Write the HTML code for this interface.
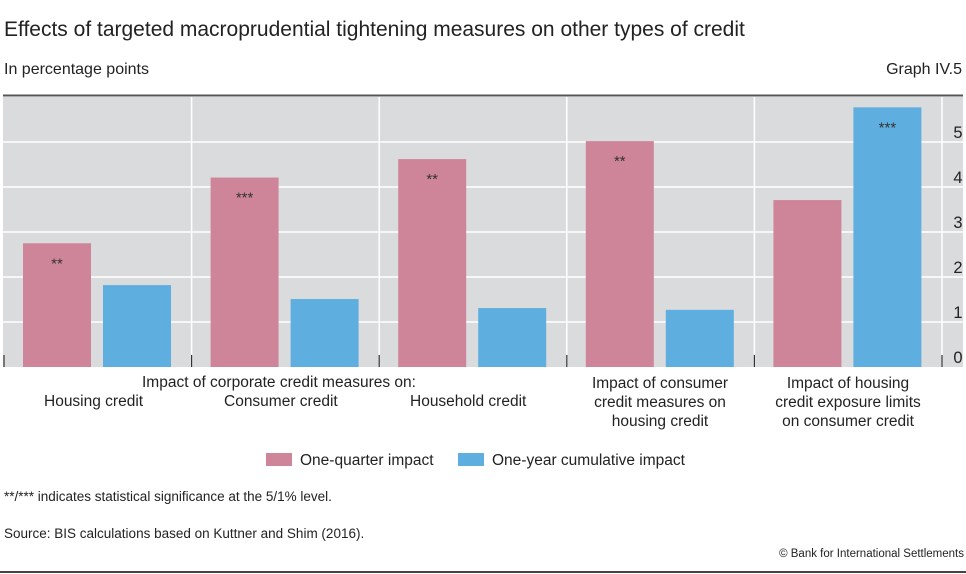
<!DOCTYPE html>
<html><head><meta charset="utf-8"><style>
body{margin:0;background:#fff;font-family:"Liberation Sans",sans-serif;}
#wrap{position:relative;width:966px;height:574px;overflow:hidden;}
.t{position:absolute;color:#222;white-space:nowrap;}
.c{text-align:center;line-height:19px;font-size:15.5px;}
</style></head><body>
<div id="wrap">
<div class="t" style="left:4px;top:18px;font-size:21px;">Effects of targeted macroprudential tightening measures on other types of credit</div>
<div class="t" style="left:4px;top:61px;font-size:16px;">In percentage points</div>
<div class="t" style="right:4px;top:61px;font-size:16px;">Graph IV.5</div>
<svg id="chart" width="966" height="440" style="position:absolute;left:0;top:0"></svg>
<div class="t" style="left:142px;top:374px;font-size:15.5px;">Impact of corporate credit measures on:</div>
<div class="t" style="left:44px;top:393px;font-size:15.5px;">Housing credit</div>
<div class="t" style="left:224px;top:393px;font-size:15.5px;">Consumer credit</div>
<div class="t" style="left:410px;top:393px;font-size:15.5px;">Household credit</div>
<div class="t c" style="left:566px;width:188px;top:374px;">Impact of consumer<br>credit measures on<br>housing credit</div>
<div class="t c" style="left:754px;width:188px;top:374px;">Impact of housing<br>credit exposure limits<br>on consumer credit</div>
<div class="t" style="left:266px;top:452px;font-size:15.5px;"><span style="display:inline-block;width:26px;height:13px;background:#cf8599;vertical-align:-1px;margin-right:8px"></span>One-quarter impact</div>
<div class="t" style="left:458px;top:452px;font-size:15.5px;"><span style="display:inline-block;width:26px;height:13px;background:#5eaee0;vertical-align:-1px;margin-right:8px"></span>One-year cumulative impact</div>
<div class="t" style="left:4px;top:489px;font-size:13.5px;">**/*** indicates statistical significance at the 5/1% level.</div>
<div class="t" style="left:4px;top:526px;font-size:13.5px;">Source: BIS calculations based on Kuttner and Shim (2016).</div>
<div class="t" style="right:2px;top:548px;font-size:11.5px;">© Bank for International Settlements</div>
<div style="position:absolute;left:0;top:571px;width:966px;height:1.5px;background:#444"></div>
</div>
<script>
const categories=["Housing credit","Consumer credit","Household credit","Consumer→housing","Housing limits→consumer"];
const quarterValues=[2.75,4.21,4.62,5.02,3.71];
const yearValues=[1.82,1.51,1.31,1.27,5.77];
const quarterStars=["**","***","**","**",""];
const yearStars=["","","","","***"];
const yTicks=[0,1,2,3,4,5];
const NS="http://www.w3.org/2000/svg";
const svg=document.getElementById('chart');
const x0=4,catW=187.6,y0=367,unit=45,plotTop=97;
const yS=v=>y0-v*unit;
const cx=i=>x0+i*catW;
function mk(t,a){const e=document.createElementNS(NS,t);for(const k in a)e.setAttribute(k,a[k]);svg.appendChild(e);return e;}
let r=mk('rect',{x:3,y:plotTop,width:960,height:y0-plotTop,fill:'#dadbdd'});


yTicks.slice(1).forEach(v=>{const l=mk('line',{x1:3,x2:963,y1:yS(v),y2:yS(v),stroke:'#fff','stroke-width':1.5});

});
for(let i=1;i<=categories.length;i++){const l=mk('line',{x1:cx(i),x2:cx(i),y1:plotTop,y2:y0,stroke:'#fff','stroke-width':1.5});

}
mk('line',{x1:3,x2:963,y1:95.5,y2:95.5,stroke:'#555','stroke-width':2});
categories.forEach((c,i)=>{
 const b1=mk('rect',{x:cx(i)+19,y:yS(quarterValues[i]),width:68,height:quarterValues[i]*unit,fill:'#cf8599'});
 
 
 const b2=mk('rect',{x:cx(i)+99,y:yS(yearValues[i]),width:68,height:yearValues[i]*unit,fill:'#5eaee0'});
 
 
 if(quarterStars[i]){const t=mk('text',{x:cx(i)+53,y:yS(quarterValues[i])+25,'text-anchor':'middle','font-size':15,fill:'#333'});t.textContent=quarterStars[i];
 
 }
 if(yearStars[i]){const t=mk('text',{x:cx(i)+133,y:yS(yearValues[i])+25,'text-anchor':'middle','font-size':15,fill:'#333'});t.textContent=yearStars[i];
 
 }
});
for(let i=0;i<=categories.length;i++){mk('line',{x1:cx(i),x2:cx(i),y1:355,y2:367,stroke:'#333','stroke-width':1.2});}
yTicks.forEach(v=>{const t=mk('text',{x:958,y:yS(v)-4,'text-anchor':'middle','font-size':16.5,fill:'#222','font-family':'Liberation Sans'});t.textContent=v;

});
</script>
</body></html>
